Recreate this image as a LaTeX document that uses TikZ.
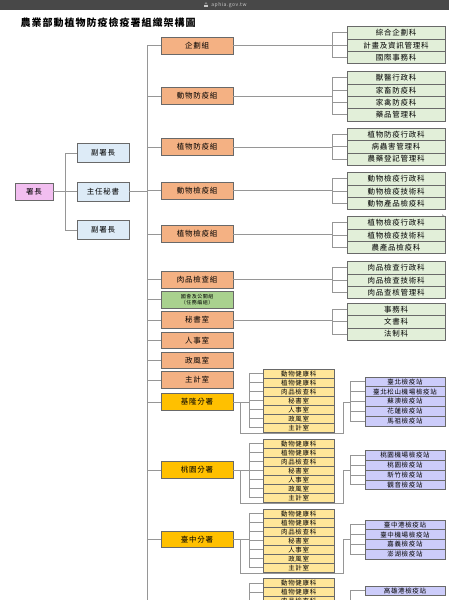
\documentclass[tikz,border=0pt]{standalone}
\usepackage{fontspec}
\setmainfont{Noto Sans CJK TC}[LetterSpace=10]
\usepackage{tikz}
\usetikzlibrary{positioning,calc}
\definecolor{barGray}{RGB}{72,72,72}
\definecolor{barText}{RGB}{200,200,200}
\definecolor{chiefFill}{RGB}{242,190,240}
\definecolor{depFill}{RGB}{221,235,247}
\definecolor{divFill}{RGB}{244,177,131}
\definecolor{taskFill}{RGB}{169,209,142}
\definecolor{branchFill}{RGB}{255,192,0}
\definecolor{secFill}{RGB}{226,239,217}
\definecolor{brSecFill}{RGB}{255,230,153}
\definecolor{stFill}{RGB}{204,204,250}
\definecolor{boxLine}{RGB}{105,105,105}
\definecolor{lineGray}{RGB}{150,150,150}
\tikzset{
    every node/.append style={align=center},
    box/.style={rectangle,draw=boxLine,line width=0.7pt,inner sep=0pt,outer sep=0pt},
    chiefbox/.style={box,fill=chiefFill,minimum width=38pt,minimum height=17pt,font=\fontsize{7.5}{8}\selectfont},
    depbox/.style={box,fill=depFill,minimum width=52pt,minimum height=19pt,font=\fontsize{7.5}{8}\selectfont},
    divbox/.style={box,fill=divFill,minimum width=72pt,minimum height=16.5pt,font=\fontsize{7.5}{8}\selectfont},
    taskbox/.style={divbox,fill=taskFill,font=\fontsize{5}{6}\selectfont},
    branchbox/.style={divbox,fill=branchFill},
    secbox/.style={box,fill=secFill,minimum width=98pt,minimum height=12.3pt,font=\fontsize{7.5}{8}\selectfont},
    brsecbox/.style={box,fill=brSecFill,minimum width=71.5pt,minimum height=9.05pt,font=\fontsize{6.5}{7}\selectfont},
    stbox/.style={box,fill=stFill,minimum width=80pt,minimum height=9.8pt,font=\fontsize{6.5}{7}\selectfont},
    conn/.style={draw=lineGray,line width=0.9pt}
}
\begin{document}
\begin{tikzpicture}[x=1pt,y=-1pt]
    \useasboundingbox (0,0) rectangle (449,600);
    \clip (0,0) rectangle (449,600);
    \fill[white] (0,0) rectangle (449,600);

    % browser bar
    \fill[barGray] (0,0) rectangle (449,9.7);
    \node[text=barText,font=\fontsize{5}{5}\selectfont] (site) at (229,5) {aphia.gov.tw};
    \fill[barText] (204.3,4.6) rectangle (207.7,7.2);
    \draw[barText,line width=0.4pt] (205,4.6) -- (205,3.6) arc[start angle=180,end angle=360,radius=1] -- (207,4.6);
    \fill[gray!60] (442,214) -- (446,217) -- (442,220) -- cycle;

    \node[font=\bfseries\fontsize{10}{11}\selectfont,anchor=west] (title) at (17,22.5) {農業部動植物防疫檢疫署組織架構圖};

    % leadership
    \node[chiefbox] (chief) at (34,191.5) {署長};
    \node[depbox] (secgen) at (103,191.5) {主任秘書};
    \node[depbox,above=19.5pt of secgen] (depA) {副署長};
    \node[depbox,below=19.5pt of secgen] (depB) {副署長};

    % divisions
    \node[divbox] (plan) at (197,45.7) {企劃組};
    \node[divbox] (animalCtl) at (197,96) {動物防疫組};
    \node[divbox] (plantCtl) at (197,147) {植物防疫組};
    \node[divbox] (animalQua) at (197,190.7) {動物檢疫組};
    \node[divbox] (plantQua) at (197,234) {植物檢疫組};
    \node[divbox] (meat) at (197,279.7) {肉品檢查組};
    \node[taskbox] (congress) at (197,299.7) {國會及公關組\\（任務編組）};
    \node[divbox] (secret) at (197,320) {秘書室};
    \node[divbox] (personnel) at (197,340.3) {人事室};
    \node[divbox] (ethics) at (197,360.3) {政風室};
    \node[divbox] (account) at (197,380) {主計室};
    \node[branchbox] (keelung) at (197,402) {基隆分署};
    \node[branchbox] (taoyuan) at (197,470) {桃園分署};
    \node[branchbox] (taichung) at (197,539.2) {臺中分署};

    % sections
    \node[secbox,anchor=north west] (plan1) at (347,26.7) {綜合企劃科};
    \node[secbox,below=0pt of plan1] (plan2) {計畫及資訊管理科};
    \node[secbox,below=0pt of plan2] (plan3) {國際事務科};
    \node[secbox,anchor=north west] (ac1) at (347,71.7) {獸醫行政科};
    \node[secbox,below=0pt of ac1] (ac2) {家畜防疫科};
    \node[secbox,below=0pt of ac2] (ac3) {家禽防疫科};
    \node[secbox,below=0pt of ac3] (ac4) {藥品管理科};
    \node[secbox,anchor=north west] (pc1) at (347,128.3) {植物防疫行政科};
    \node[secbox,below=0pt of pc1] (pc2) {病蟲害管理科};
    \node[secbox,below=0pt of pc2] (pc3) {農藥登記管理科};
    \node[secbox,anchor=north west] (aq1) at (347,172.7) {動物檢疫行政科};
    \node[secbox,below=0pt of aq1] (aq2) {動物檢疫技術科};
    \node[secbox,below=0pt of aq2] (aq3) {動物產品檢疫科};
    \node[secbox,anchor=north west] (pq1) at (347,216.7) {植物檢疫行政科};
    \node[secbox,below=0pt of pq1] (pq2) {植物檢疫技術科};
    \node[secbox,below=0pt of pq2] (pq3) {農產品檢疫科};
    \node[secbox,anchor=north west] (mt1) at (347,261.7) {肉品檢查行政科};
    \node[secbox,below=0pt of mt1] (mt2) {肉品檢查技術科};
    \node[secbox,below=0pt of mt2] (mt3) {肉品查核管理科};
    \node[secbox,anchor=north west] (sc1) at (347,303.3) {事務科};
    \node[secbox,below=0pt of sc1] (sc2) {文書科};
    \node[secbox,below=0pt of sc2] (sc3) {法制科};

    % branch sections
    \node[brsecbox,anchor=north west] (kl1) at (263,369) {動物健康科};
    \node[brsecbox,below=0pt of kl1] (kl2) {植物健康科};
    \node[brsecbox,below=0pt of kl2] (kl3) {肉品檢查科};
    \node[brsecbox,below=0pt of kl3] (kl4) {秘書室};
    \node[brsecbox,below=0pt of kl4] (kl5) {人事室};
    \node[brsecbox,below=0pt of kl5] (kl6) {政風室};
    \node[brsecbox,below=0pt of kl6] (kl7) {主計室};
    \node[brsecbox,anchor=north west] (ty1) at (263,439) {動物健康科};
    \node[brsecbox,below=0pt of ty1] (ty2) {植物健康科};
    \node[brsecbox,below=0pt of ty2] (ty3) {肉品檢查科};
    \node[brsecbox,below=0pt of ty3] (ty4) {秘書室};
    \node[brsecbox,below=0pt of ty4] (ty5) {人事室};
    \node[brsecbox,below=0pt of ty5] (ty6) {政風室};
    \node[brsecbox,below=0pt of ty6] (ty7) {主計室};
    \node[brsecbox,anchor=north west] (tc1) at (263,509) {動物健康科};
    \node[brsecbox,below=0pt of tc1] (tc2) {植物健康科};
    \node[brsecbox,below=0pt of tc2] (tc3) {肉品檢查科};
    \node[brsecbox,below=0pt of tc3] (tc4) {秘書室};
    \node[brsecbox,below=0pt of tc4] (tc5) {人事室};
    \node[brsecbox,below=0pt of tc5] (tc6) {政風室};
    \node[brsecbox,below=0pt of tc6] (tc7) {主計室};
    \node[brsecbox,anchor=north west] (ks1) at (263,578.5) {動物健康科};
    \node[brsecbox,below=0pt of ks1] (ks2) {植物健康科};
    \node[brsecbox,below=0pt of ks2] (ks3) {肉品檢查科};

    % stations
    \node[stbox,anchor=north west] (klT1) at (365,377) {臺北檢疫站};
    \node[stbox,below=0pt of klT1] (klT2) {臺北松山機場檢疫站};
    \node[stbox,below=0pt of klT2] (klT3) {蘇澳檢疫站};
    \node[stbox,below=0pt of klT3] (klT4) {花蓮檢疫站};
    \node[stbox,below=0pt of klT4] (klT5) {馬祖檢疫站};
    \node[stbox,anchor=north west] (tyT1) at (365,450.5) {桃園機場檢疫站};
    \node[stbox,below=0pt of tyT1] (tyT2) {桃園檢疫站};
    \node[stbox,below=0pt of tyT2] (tyT3) {新竹檢疫站};
    \node[stbox,below=0pt of tyT3] (tyT4) {觀音檢疫站};
    \node[stbox,anchor=north west] (tcT1) at (365,520) {臺中港檢疫站};
    \node[stbox,below=0pt of tcT1] (tcT2) {臺中機場檢疫站};
    \node[stbox,below=0pt of tcT2] (tcT3) {嘉義檢疫站};
    \node[stbox,below=0pt of tcT3] (tcT4) {澎湖檢疫站};
    \node[stbox,anchor=north west] (ksT1) at (365,586) {高雄港檢疫站};

    % leadership lines
    \coordinate (spineEnd) at (147,600);
    \draw[conn] (chief) -- (secgen);
    \draw[conn] ([xshift=12pt]chief.east) |- (depA.west);
    \draw[conn] ([xshift=12pt]chief.east) |- (depB.west);
    \draw[conn] (secgen) -- (secgen -| spineEnd);
    \draw[conn] (plan.west -| spineEnd) -- (spineEnd);

    % spine to divisions
    \draw[conn] (plan.west -| spineEnd) -- (plan);
    \draw[conn] (animalCtl.west -| spineEnd) -- (animalCtl);
    \draw[conn] (plantCtl.west -| spineEnd) -- (plantCtl);
    \draw[conn] (animalQua.west -| spineEnd) -- (animalQua);
    \draw[conn] (plantQua.west -| spineEnd) -- (plantQua);
    \draw[conn] (meat.west -| spineEnd) -- (meat);
    \draw[conn] (congress.west -| spineEnd) -- (congress);
    \draw[conn] (secret.west -| spineEnd) -- (secret);
    \draw[conn] (personnel.west -| spineEnd) -- (personnel);
    \draw[conn] (ethics.west -| spineEnd) -- (ethics);
    \draw[conn] (account.west -| spineEnd) -- (account);
    \draw[conn] (keelung.west -| spineEnd) -- (keelung);
    \draw[conn] (taoyuan.west -| spineEnd) -- (taoyuan);
    \draw[conn] (taichung.west -| spineEnd) -- (taichung);

    % divisions to sections
    \draw[conn] (plan) -| ([xshift=-15pt]plan1.west) -- (plan1);
    \draw[conn] (plan) -| ([xshift=-15pt]plan2.west) -- (plan2);
    \draw[conn] (plan) -| ([xshift=-15pt]plan3.west) -- (plan3);
    \draw[conn] (animalCtl) -| ([xshift=-15pt]ac1.west) -- (ac1);
    \draw[conn] (animalCtl) -| ([xshift=-15pt]ac2.west) -- (ac2);
    \draw[conn] (animalCtl) -| ([xshift=-15pt]ac3.west) -- (ac3);
    \draw[conn] (animalCtl) -| ([xshift=-15pt]ac4.west) -- (ac4);
    \draw[conn] (plantCtl) -| ([xshift=-15pt]pc1.west) -- (pc1);
    \draw[conn] (plantCtl) -| ([xshift=-15pt]pc2.west) -- (pc2);
    \draw[conn] (plantCtl) -| ([xshift=-15pt]pc3.west) -- (pc3);
    \draw[conn] (animalQua) -| ([xshift=-15pt]aq1.west) -- (aq1);
    \draw[conn] (animalQua) -| ([xshift=-15pt]aq2.west) -- (aq2);
    \draw[conn] (animalQua) -| ([xshift=-15pt]aq3.west) -- (aq3);
    \draw[conn] (plantQua) -| ([xshift=-15pt]pq1.west) -- (pq1);
    \draw[conn] (plantQua) -| ([xshift=-15pt]pq2.west) -- (pq2);
    \draw[conn] (plantQua) -| ([xshift=-15pt]pq3.west) -- (pq3);
    \draw[conn] (meat) -| ([xshift=-15pt]mt1.west) -- (mt1);
    \draw[conn] (meat) -| ([xshift=-15pt]mt2.west) -- (mt2);
    \draw[conn] (meat) -| ([xshift=-15pt]mt3.west) -- (mt3);
    \draw[conn] (secret) -| ([xshift=-15pt]sc1.west) -- (sc1);
    \draw[conn] (secret) -| ([xshift=-15pt]sc2.west) -- (sc2);
    \draw[conn] (secret) -| ([xshift=-15pt]sc3.west) -- (sc3);

    % branches to their sections
    \draw[conn] (keelung) -| ([xshift=-14pt]kl1.west) -- (kl1);
    \draw[conn] (keelung) -| ([xshift=-14pt]kl2.west) -- (kl2);
    \draw[conn] (keelung) -| ([xshift=-14pt]kl3.west) -- (kl3);
    \draw[conn] (keelung) -| ([xshift=-14pt]kl4.west) -- (kl4);
    \draw[conn] (keelung) -| ([xshift=-14pt]kl5.west) -- (kl5);
    \draw[conn] (keelung) -| ([xshift=-14pt]kl6.west) -- (kl6);
    \draw[conn] (keelung) -| ([xshift=-14pt]kl7.west) -- (kl7);
    \draw[conn] (taoyuan) -| ([xshift=-14pt]ty1.west) -- (ty1);
    \draw[conn] (taoyuan) -| ([xshift=-14pt]ty2.west) -- (ty2);
    \draw[conn] (taoyuan) -| ([xshift=-14pt]ty3.west) -- (ty3);
    \draw[conn] (taoyuan) -| ([xshift=-14pt]ty4.west) -- (ty4);
    \draw[conn] (taoyuan) -| ([xshift=-14pt]ty5.west) -- (ty5);
    \draw[conn] (taoyuan) -| ([xshift=-14pt]ty6.west) -- (ty6);
    \draw[conn] (taoyuan) -| ([xshift=-14pt]ty7.west) -- (ty7);
    \draw[conn] (taichung) -| ([xshift=-14pt]tc1.west) -- (tc1);
    \draw[conn] (taichung) -| ([xshift=-14pt]tc2.west) -- (tc2);
    \draw[conn] (taichung) -| ([xshift=-14pt]tc3.west) -- (tc3);
    \draw[conn] (taichung) -| ([xshift=-14pt]tc4.west) -- (tc4);
    \draw[conn] (taichung) -| ([xshift=-14pt]tc5.west) -- (tc5);
    \draw[conn] (taichung) -| ([xshift=-14pt]tc6.west) -- (tc6);
    \draw[conn] (taichung) -| ([xshift=-14pt]tc7.west) -- (tc7);
    \draw[conn] ([xshift=-14pt]ks1.west) -- (ks1);
    \draw[conn] ([xshift=-14pt]ks2.west) -- (ks2);
    \draw[conn] ([xshift=-14pt]ks3.west) -- (ks3);
    \draw[conn] ([xshift=-14pt]ks1.west) -- ([xshift=-14pt]ks3.south west);

    % branches to their stations
    \coordinate (klHub) at ($(klT1.west |- keelung.east)+(-15,0)$);
    \coordinate (tyHub) at ($(tyT1.west |- taoyuan.east)+(-15,0)$);
    \coordinate (tcHub) at ($(tcT1.west |- taichung.east)+(-15,0)$);
    \draw[conn] ([xshift=7pt]keelung.east) |- ($(klT1.west |- kl7.south)+(-22,1.5)$) |- (klHub);
    \draw[conn] ([xshift=7pt]taoyuan.east) |- ($(tyT1.west |- ty7.south)+(-22,1.5)$) |- (tyHub);
    \draw[conn] ([xshift=7pt]taichung.east) |- ($(tcT1.west |- tc7.south)+(-22,1.5)$) |- (tcHub);
    \draw[conn] (klHub) |- (klT1); \draw[conn] (klHub) |- (klT2); \draw[conn] (klHub) |- (klT3);
    \draw[conn] (klHub) |- (klT4); \draw[conn] (klHub) |- (klT5);
    \draw[conn] (tyHub) |- (tyT1); \draw[conn] (tyHub) |- (tyT2);
    \draw[conn] (tyHub) |- (tyT3); \draw[conn] (tyHub) |- (tyT4);
    \draw[conn] (tcHub) |- (tcT1); \draw[conn] (tcHub) |- (tcT2);
    \draw[conn] (tcHub) |- (tcT3); \draw[conn] (tcHub) |- (tcT4);
    \draw[conn] ([xshift=-15pt]ksT1.west) -- (ksT1);
    \draw[conn] ([xshift=-15pt]ksT1.west) -- ([xshift=-15pt,yshift=-20pt]ksT1.west);
\end{tikzpicture}
\end{document}
